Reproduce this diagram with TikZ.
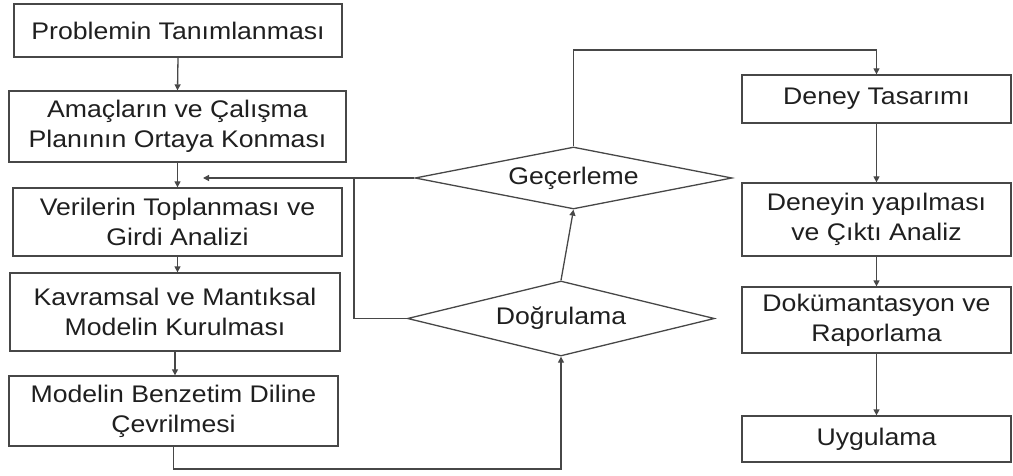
\documentclass[tikz,border=0pt]{standalone}
\usepackage{fontspec}
\setmainfont[FakeStretch=1.11]{Liberation Sans}
\usetikzlibrary{shapes.geometric,arrows.meta}
\definecolor{linegray}{gray}{0.28}
\definecolor{textgray}{gray}{0.12}
\begin{document}
\begin{tikzpicture}[x=1pt,y=-1pt,
  every node/.style={font=\fontsize{24}{30}\selectfont, text=textgray, align=center, inner sep=0pt},
  stepbox/.style={draw=linegray, line width=1.3pt, rectangle},
  checkbox/.style={draw=linegray, line width=1.3pt, diamond, aspect=5},
  conn/.style={draw=linegray, line width=1.3pt},
  arr/.style={conn, -{Triangle[length=6pt,width=6pt]}}]
\useasboundingbox (0,0) rectangle (1013,476);

% left column
\node[stepbox, minimum width=328pt, minimum height=53pt] (b1) at (178,30.5) {Problemin Tanımlanması};
\node[stepbox, minimum width=337pt, minimum height=71pt] (b2) at (177.5,126.5) {Amaçların ve Çalışma\\Planının Ortaya Konması};
\node[stepbox, minimum width=329pt, minimum height=68pt] (b3) at (177.5,222) {Verilerin Toplanması ve\\Girdi Analizi};
\node[stepbox, minimum width=330pt, minimum height=78pt] (b4) at (175,312) {Kavramsal ve Mantıksal\\Modelin Kurulması};
\node[stepbox, minimum width=329pt, minimum height=70pt] (b5) at (173.5,411) {Modelin Benzetim Diline\\Çevrilmesi};

% decisions
\node[checkbox, minimum width=317pt, minimum height=62pt] (gec) at (573.5,178) {Geçerleme};
\node[checkbox, minimum width=307pt, minimum height=75pt] (dog) at (561,318.5) {Doğrulama};

% right column
\node[stepbox, minimum width=269pt, minimum height=48pt] (r1) at (876.5,99) {Deney Tasarımı};
\node[stepbox, minimum width=269pt, minimum height=73pt] (r2) at (876.5,219.5) {Deneyin yapılması\\ve Çıktı Analiz};
\node[stepbox, minimum width=269pt, minimum height=66pt] (r3) at (876.5,320) {Dokümantasyon ve\\Raporlama};
\node[stepbox, minimum width=269pt, minimum height=46pt] (r4) at (876.5,439) {Uygulama};

% helper points
\coordinate (fb) at (203,178);
\coordinate (fbv) at (354,178);
\coordinate (top) at (876.5,50);
\coordinate (low) at (173.5,469);

% main flow, left column
\draw[arr] (b1.south) -- (b2.south |- b2.north);
\draw[arr] (b2.south) -- (b2.south |- b3.north);
\draw[arr] (b3.south) -- (b3.south |- b4.north);
\draw[arr] (b4.south) -- (b4.south |- b5.north);
\draw[arr] (b5.south) -- (low) -| (dog.south);

% checks and feedback
\draw[arr] (dog.north) -- (gec.south);
\draw[arr] (gec.west) -- (fb);
\draw[conn] (dog.west) -| (fbv);
\draw[arr] (gec.north) |- (top) -- (r1.north);

% right column
\draw[arr] (r1.south) -- (r2.north);
\draw[arr] (r2.south) -- (r3.north);
\draw[arr] (r3.south) -- (r4.north);
\end{tikzpicture}
\end{document}
